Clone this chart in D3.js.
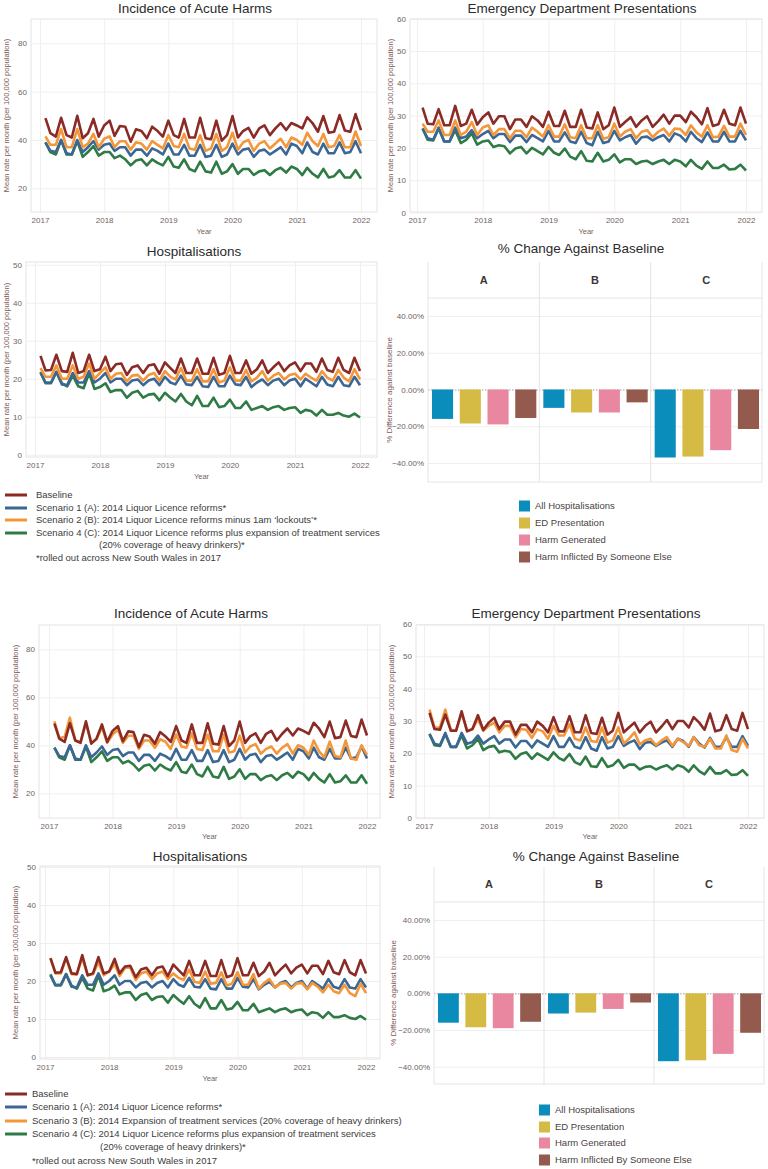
<!DOCTYPE html>
<html><head><meta charset="utf-8">
<script src="https://cdn.jsdelivr.net/npm/d3@7"></script>
<style>
body{margin:0;background:#fff}
svg{display:block}
text{font-family:"Liberation Sans",Arial,sans-serif}
</style>
</head><body>
<svg id="c" width="768" height="1169"></svg>
<script>
// ---------------- DATA ----------------
const seriesNamesTop = ["Baseline","Scenario 1 (A): 2014 Liquor Licence reforms*","Scenario 2 (B): 2014 Liquor Licence reforms minus 1am \u2018lockouts\u2019*","Scenario 4 (C): 2014 Liquor Licence reforms plus expansion of treatment services"];
const seriesNamesBottom = ["Baseline","Scenario 1 (A): 2014 Liquor Licence reforms*","Scenario 3 (B): 2014 Expansion of treatment services (20% coverage of heavy drinkers)","Scenario 4 (C): 2014 Liquor Licence reforms plus expansion of treatment services"];
const legendContinuation = "(20% coverage of heavy drinkers)*";
const footnote = "*rolled out across New South Wales in 2017";
const yearLabels = ["2017","2018","2019","2020","2021","2022"];

// monthly rates, Feb 2017 .. Jan 2022 (60 months)
const incBaseline = [49,42.8,41.4,49.2,42,41,50,40.7,42.8,48.7,41.4,46,
  48,41.7,45.8,45.5,39.3,44.4,43.7,40.7,45.5,43.7,41.4,48,
  42,41,48.7,41,41,49.2,40.7,40.3,48,39.7,42,49.9,
  41,43.7,45,41,44.8,46,42,44.8,47,44.1,47,46,
  44.8,49.4,46.9,43.4,49.9,43,43.4,50.3,43.9,43.4,50.7,44.1];
const incS1 = [39,35.5,35,40,34.5,34,40,35,37,39.5,36,38,
  38.5,35.5,37,37,33.5,36,36,33.5,36.5,35.5,34,38.5,
  34,34,38,33.5,33.5,38,33,33.5,38,33,34,38.5,
  34,36,36.5,33,35.5,36,34,35.5,37,34,38.5,37.5,
  34.5,39,35,34,38.5,34.5,34.5,39,34.5,35,39.5,34.5];
const incS2 = [41.5,38,38,44.5,37,37,44.5,37,38.5,42.5,37,40.5,
  41.5,37,39.5,39.5,36,39,38.5,36,39.5,38,36.5,42,
  37.5,37,42.5,36.5,36,42,35.5,36.5,42.5,35.5,37,43,
  36,39,40,35.5,38.5,39.5,36.5,38.5,40.5,37,41,40,
  38,43,39.5,37.5,42.5,37,37.5,42,37,37,43.5,37.5];
const incS3 = [50,43,43.5,51.5,42,41.5,49,41,42.5,47.5,41,44.5,
  46.5,41,44,44,38.5,42,42,39,42.5,41.5,38.5,44.5,
  39.5,39,45,38.5,38,44.5,37.5,37.5,44.5,37,37.5,44,
  37,39.5,40.5,36.5,38.5,39.5,36.5,39,40.5,36.5,40,39,
  36,42,37.5,35,41.5,35.5,35,42,34.5,34,40,36];
const incS4 = [39,35,34,40,34,34,39.5,33,35,37.5,33.5,35,
  35,32.5,33.5,32,29.5,31.5,32,29.5,32,30.5,29.5,33,
  29,28.5,32,28,27,31,27,26.5,31,26,27,30,
  26,28,28,25.5,27,27.5,25.5,27.5,28.5,26.5,29,28,
  25.5,28.5,26,24.5,28,24.5,25,27.5,24.5,24.5,27.5,24];

const edBaseline = [32.5,27.5,27.3,32,27,27,33,26.8,27.5,31.8,27.2,29.5,
  31,27.5,29.8,29.8,25.8,28.8,28.8,26.5,29.8,28.5,26.5,31.2,
  26.8,26.8,31.5,26.5,26.5,31.8,26.3,26,31,25.8,27,32.5,
  26.5,28,29.5,26.5,28.5,29.8,26.5,28.3,30.3,27.5,30,30,
  28,31.2,29.5,27.3,32.3,26.8,27.3,31.8,27.5,27,32.5,27.5];
const edS1 = [26,23,22.5,26.3,22,22,26.3,23,23.5,25.5,23,24.3,
  25.3,23,24.3,24.3,21.8,23.8,23.8,21.8,24,23,22,25.3,
  22,22,24.8,22,21.5,25,21.5,20.8,25,21.5,22,25.3,
  22.3,23.3,24,21.3,23.3,23.5,22.3,23.3,24,22,24.5,23.8,
  22,25,23,21.8,24.8,22,22,25,22,22,25.3,22.3];
const edS2 = [27.5,25,25,28.5,24,24,28.5,24,25,28,24,26.3,
  27,24,25.8,25.8,23,25.3,25.3,23.3,26.3,25,23.5,27,
  23.5,23.5,27.3,23.3,23,27,23,23,27,22.8,23.3,27.5,
  23.5,25,25.8,23,25,25.5,23.3,25,26,23.8,26,25.8,
  24,27,24.8,23.5,27,23.3,23.5,26.8,23.5,23.5,27.5,24];
const edS3 = [33.5,28,28,33.5,27.3,27,32.5,27,27.5,30.5,27,28.5,
  29.5,26.5,28.5,28.5,25,27.5,27.3,24.8,27.5,26.8,24.5,28.5,
  25.5,25.5,29,24.5,24,28,23.8,23.5,28,23.3,24,28,
  23,24.5,26.5,22.8,24,24.5,22.5,24,25,22.3,24.5,23.5,
  22.3,25,22.5,22,24.5,21.5,21.5,25.5,21,20.5,24.5,21.5];
const edS4 = [26,22.5,22.3,26,22,22,25.5,21.5,22.5,24.5,21,22,
  22.3,20.3,20.8,20.5,18.3,19.8,20.3,18.3,20,19,18,20.3,
  18.5,17.8,19.8,17.3,16.5,19,16,15.8,18.5,15.8,16.3,18,
  15.5,16.5,16.5,15,15.8,16,15,15.8,16.3,15,16.3,15.8,
  14.3,16.3,14.5,13.5,15.8,13.8,13.8,14.8,13.3,13.5,14.8,13];

const hospBaseline = [26,22.2,22.3,26.3,22,21.8,26.8,21.5,22,26.3,22,22.5,
  25.8,22,23.8,24,21,23,23.5,21.5,23.5,23.8,21.3,24.3,
  22.8,21.5,25.3,21.5,21.5,25.3,21.3,21.3,25.5,21,21.5,26,
  21.5,21.5,24.8,21.3,22.5,24.8,21.5,23,24.3,22,23.5,24.3,
  22,24,24,21.8,25.3,22.3,21.8,25.5,22.3,21.5,25.5,22];
const hospS1 = [21.5,19,19,21.8,18.5,18.3,21.5,19,19,22,19,20,
  21.5,19,20,20,18.3,19.5,19.8,18.3,19.5,20,18.3,20.5,
  19,18.5,20.8,18.5,18.3,20.5,18,17.8,20.5,18,18,20.8,
  18.5,18.3,20.5,17.8,19,19.8,18.3,19.5,20,18.3,19.5,20,
  18,20,19,18,20.5,18.5,18,20.5,18.3,18,20.5,18.3];
const hospS2 = [22.8,20.5,20.5,23.5,20,20,23.5,20,20.5,24,20,21.5,
  23,20,21.3,21.5,19.3,20.8,21,19.5,21,21.5,19.5,22,
  20.5,19.8,22.8,19.5,19.5,22.5,19.3,19.3,22.5,19,19.5,23,
  19.5,19.5,22.3,19.3,20.3,22,19.5,20.8,21.5,19.8,21,21.3,
  19.8,21.3,20.3,19.5,22,20.3,19.5,22.3,20.3,19.3,22.5,19.8];
const hospS3 = [26,22,22,26,21.8,21.8,26,21.5,21.8,25,21.5,22.5,
  24.5,21.3,23.5,23.5,20.3,22,22.5,20.5,22,22.5,20.5,22,
  20.8,20.3,23,19.8,19.5,22.5,19.3,19.5,22.3,18.8,19.3,22.3,
  19,19,21.8,18,19.5,20.5,18.3,19.3,19.5,18,19.3,19.5,
  17.8,19.5,18.5,17,19,17.3,16.8,19,16.8,16,19.3,16.8];
const hospS4 = [21.8,18.8,18.8,21.8,18.8,18,20.8,18,17.5,21.5,17.3,17.8,
  18.8,16.5,17,17,15,16.3,16.8,15,15.8,16,14.3,16.3,
  15,14,16,14,13,15.5,12.8,12.8,15,12.5,12.8,14.5,
  12.3,12.3,14,11.8,12.3,12.8,11.8,12.5,12.8,11.8,12.3,12.5,
  11,11.8,11.5,10.3,11.8,10.5,10.5,11,10.3,10,10.8,9.8];

// % change against baseline
const barScenarios = ["A","B","C"];
const barMeasures = ["All Hospitalisations","ED Presentation","Harm Generated","Harm Inflicted By Someone Else"];
const pctTopA = [-16,-18.5,-19,-15.5];
const pctTopB = [-10,-12.5,-12.5,-7];
const pctTopC = [-37,-36.5,-33,-21.5];
const pctBotA = [-16,-18.5,-19,-15.5];
const pctBotB = [-11,-10.5,-8.5,-5];
const pctBotC = [-37,-36.5,-33,-21.5];
const pctTicks = [40,20,0,-20,-40];

// ---------------- STYLE ----------------
const lineColors = ["#8a2b26","#3b6794","#f4963a","#2f7b45"];
const barColors = ["#0b8dbb","#d5bb43","#e8879f","#955a4e"];
const gridCol = "#f1eeee";
const frameCol = "#e6e3e3";
const tickCol = "#6f6363";
const axTitleCol = "#7d5656";

const svg = d3.select("#c");
const months = d3.timeMonth.range(new Date(2017,1,1), new Date(2022,1,1));
const yearDates = yearLabels.map(s => new Date(+s,0,1));

function lineChart(o, series) {
  const g = svg.append("g");
  const x = d3.scaleTime().domain([yearDates[0], yearDates[5]]).range([o.x17, o.x22]);
  const y = d3.scaleLinear().domain([o.va, o.vb]).range([o.ya, o.yb]);
  // axes + gridlines
  const xa = g.append("g").attr("transform",`translate(0,${o.b})`)
    .call(d3.axisBottom(x).tickValues(yearDates).tickFormat(d3.timeFormat("%Y")).tickSize(-(o.b-o.t)).tickPadding(5));
  const ya = g.append("g").attr("transform",`translate(${o.l},0)`)
    .call(d3.axisLeft(y).tickValues(o.ticks).tickSize(-(o.r-o.l)).tickPadding(4));
  [xa,ya].forEach(a=>{
    a.select(".domain").remove();
    a.selectAll("line").attr("stroke",gridCol);
    a.selectAll("text").attr("fill",tickCol).style("font-size","8px");
  });
  g.append("rect").attr("x",o.l).attr("y",o.t).attr("width",o.r-o.l).attr("height",o.b-o.t)
    .attr("fill","none").attr("stroke",frameCol);
  const line = d3.line().x((d,i)=>x(months[i])).y(d=>y(d));
  [3,1,2,0].forEach(k=>{
    g.append("path").datum(series[k]).attr("d",line).attr("fill","none")
      .attr("stroke",lineColors[k]).attr("stroke-width",2.6).attr("stroke-linejoin","round");
  });
  g.append("text").attr("x",o.tx).attr("y",o.ty).attr("text-anchor","middle")
    .style("font-size","13.5px").attr("fill","#2b2b2b").text(o.title);
  g.append("text").attr("transform",`translate(${o.ylx},${(o.t+o.b)/2}) rotate(-90)`)
    .attr("text-anchor","middle").attr("dy","0.35em").style("font-size","7.5px").attr("fill",axTitleCol)
    .text("Mean rate per month (per 100,000 population)");
  g.append("text").attr("x",(o.l+o.r)/2).attr("y",o.yearY).attr("text-anchor","middle")
    .style("font-size","7.5px").attr("fill",tickCol).text("Year");
}

function barChart(o, vals) {
  const g = svg.append("g");
  const y = d3.scaleLinear().domain([40,-40]).range([o.y40, o.ym40]);
  const col = d3.scaleBand().domain(barScenarios).range([o.l,o.r]);
  // horizontal grid
  const ya = g.append("g").attr("transform",`translate(${o.l},0)`)
    .call(d3.axisLeft(y).tickValues(pctTicks).tickFormat(d=>d3.format(".2f")(d)+"%").tickSize(-(o.r-o.l)).tickPadding(4));
  ya.select(".domain").remove();
  ya.selectAll("line").attr("stroke",gridCol);
  ya.selectAll("text").attr("fill",tickCol).style("font-size","8px");
  ya.selectAll(".tick").filter(d=>d===0).select("line").attr("stroke","#a09a9a").attr("stroke-dasharray","1.5,1.5");
  // frame lines
  barScenarios.forEach(s=>{
    g.append("line").attr("x1",col(s)).attr("x2",col(s)).attr("y1",o.ht).attr("y2",o.b).attr("stroke",frameCol);
  });
  g.append("line").attr("x1",o.r).attr("x2",o.r).attr("y1",o.ht).attr("y2",o.b).attr("stroke",frameCol);
  g.append("line").attr("x1",o.l).attr("x2",o.r).attr("y1",o.hb).attr("y2",o.hb).attr("stroke",frameCol);
  g.append("line").attr("x1",o.l).attr("x2",o.r).attr("y1",o.b).attr("y2",o.b).attr("stroke",frameCol);
  // headers
  barScenarios.forEach(s=>{
    g.append("text").attr("x",col(s)+col.bandwidth()/2).attr("y",(o.ht+o.hb)/2).attr("dy","0.35em")
      .attr("text-anchor","middle").style("font-size","11px").style("font-weight","bold").attr("fill","#3d3535").text(s);
  });
  // bars
  barScenarios.forEach((s,si)=>{
    const xb = d3.scaleBand().domain(barMeasures).range([col(s)+4, col(s)+col.bandwidth()-3]).paddingInner(0.24).paddingOuter(0);
    vals[si].forEach((v,mi)=>{
      g.append("rect").attr("x",xb(barMeasures[mi])).attr("width",xb.bandwidth())
        .attr("y",y(Math.max(0,v))).attr("height",Math.abs(y(v)-y(0))).attr("fill",barColors[mi]);
    });
  });
  g.append("text").attr("x",o.tx).attr("y",o.ty).attr("text-anchor","middle")
    .style("font-size","13.5px").attr("fill","#2b2b2b").text("% Change Against Baseline");
  g.append("text").attr("transform",`translate(${o.ylx},${(o.hb+o.b)/2}) rotate(-90)`)
    .attr("text-anchor","middle").attr("dy","0.35em").style("font-size","8px").attr("fill",axTitleCol)
    .text("% Difference against baseline");
}

function lineLegend(o, names) {
  const g = svg.append("g");
  const rows = [names[0],names[1],names[2],names[3]];
  rows.forEach((n,i)=>{
    g.append("line").attr("x1",o.lx1).attr("x2",o.lx2).attr("y1",o.rows[i]).attr("y2",o.rows[i])
      .attr("stroke",lineColors[i]).attr("stroke-width",3);
    g.append("text").attr("x",o.tx).attr("y",o.rows[i]).attr("dy","0.35em").style("font-size","9.5px")
      .attr("fill","#3c3c3c").text(n);
  });
  g.append("text").attr("x",o.cx).attr("y",o.rows[4]).attr("dy","0.35em").style("font-size","9.5px")
    .attr("fill","#3c3c3c").text(legendContinuation);
  g.append("text").attr("x",o.tx).attr("y",o.rows[5]).attr("dy","0.35em").style("font-size","9.5px")
    .attr("fill","#3c3c3c").text(footnote);
}

function barLegend(o) {
  const g = svg.append("g");
  barMeasures.forEach((m,i)=>{
    g.append("rect").attr("x",o.sx).attr("y",o.rows[i]-5.5).attr("width",11).attr("height",11).attr("fill",barColors[i]);
    g.append("text").attr("x",o.tx).attr("y",o.rows[i]).attr("dy","0.35em").style("font-size","9.5px")
      .attr("fill","#4a4242").text(m);
  });
}

// ---------------- LAYOUT ----------------
// top figure
lineChart({l:31,r:377,t:19,b:212,x17:40,x22:361,va:80,vb:20,ya:43.3,yb:188.3,ticks:[20,40,60,80],
  title:"Incidence of Acute Harms",tx:195,ty:13,ylx:6,yearY:234},[incBaseline,incS1,incS2,incS4]);
lineChart({l:410,r:762,t:19,b:212,x17:417,x22:746,va:0,vb:60,ya:212.5,yb:18.7,ticks:[0,10,20,30,40,50,60],
  title:"Emergency Department Presentations",tx:582,ty:13,ylx:390,yearY:234},[edBaseline,edS1,edS2,edS4]);
lineChart({l:26,r:377,t:262,b:457,x17:35,x22:360,va:0,vb:50,ya:454.7,yb:264.7,ticks:[0,10,20,30,40,50],
  title:"Hospitalisations",tx:194,ty:256,ylx:6,yearY:479},[hospBaseline,hospS1,hospS2,hospS4]);
barChart({l:428,r:762,ht:262,hb:298,b:482,y40:316,ym40:463,tx:581,ty:253,ylx:389},[pctTopA,pctTopB,pctTopC]);
lineLegend({lx1:5,lx2:27,tx:36,cx:99,rows:[495,508,520,533,545,558]},seriesNamesTop);
barLegend({sx:519,tx:535,rows:[506,523,540,557]});

// bottom figure
lineChart({l:39,r:380,t:625,b:818,x17:49,x22:367,va:80,vb:20,ya:649.3,yb:793.3,ticks:[20,40,60,80],
  title:"Incidence of Acute Harms",tx:191,ty:618,ylx:15,yearY:839},[incBaseline,incS1,incS3,incS4]);
lineChart({l:416,r:764,t:625,b:818,x17:424,x22:748,va:0,vb:60,ya:818,yb:624,ticks:[0,10,20,30,40,50,60],
  title:"Emergency Department Presentations",tx:586,ty:618,ylx:391,yearY:839},[edBaseline,edS1,edS3,edS4]);
lineChart({l:40,r:380,t:866,b:1059,x17:45,x22:366,va:0,vb:50,ya:1057,yb:867,ticks:[0,10,20,30,40,50],
  title:"Hospitalisations",tx:200,ty:861,ylx:15,yearY:1081},[hospBaseline,hospS1,hospS3,hospS4]);
barChart({l:434,r:764,ht:867,hb:902,b:1084,y40:920,ym40:1066.7,tx:596,ty:861,ylx:393},[pctBotA,pctBotB,pctBotC]);
lineLegend({lx1:5,lx2:27,tx:32,cx:100,rows:[1094,1107,1121,1134,1147,1161]},seriesNamesBottom);
barLegend({sx:539,tx:555,rows:[1110,1127,1143,1160]});
</script>
</body></html>
